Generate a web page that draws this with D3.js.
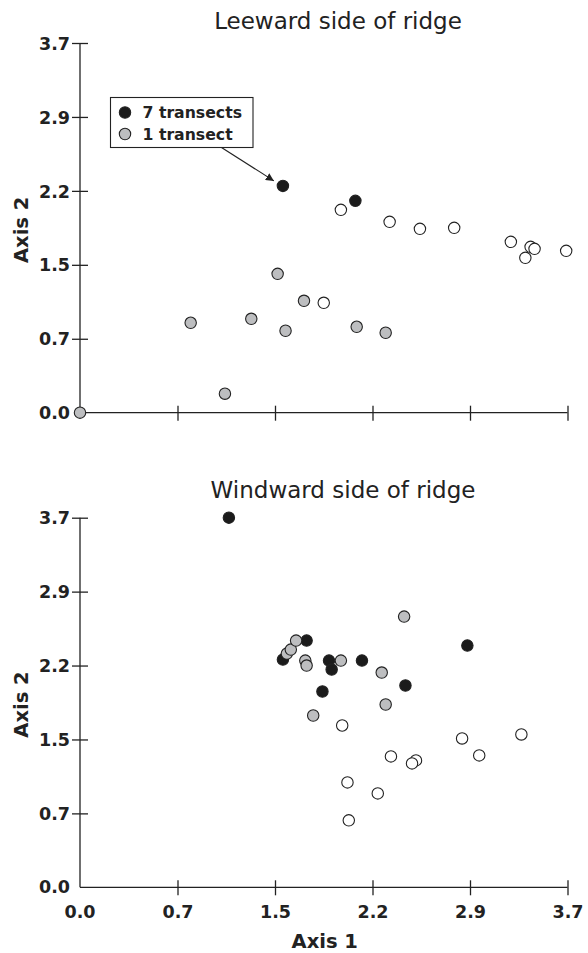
<!DOCTYPE html>
<html>
<head>
<meta charset="utf-8">
<script src="https://cdn.jsdelivr.net/npm/d3@7"></script>
<style>
  html, body { margin: 0; padding: 0; background: #fff; }
  svg { display: block; }
</style>
</head>
<body>
<svg id="chart" width="588" height="953"></svg>
<script>
// ---- data ----
const tickValues = [0.74, 1.48, 2.22, 2.96, 3.7];
const tickLabels = ["0.7", "1.5", "2.2", "2.9", "3.7"];
const zeroLabel = "0.0";

const leewardBlack = [[1.54, 2.27], [2.09, 2.12]];
const leewardGray = [[0, 0], [0.84, 0.90], [1.10, 0.19], [1.30, 0.94], [1.50, 1.39],
  [1.56, 0.82], [1.70, 1.12], [2.10, 0.86], [2.32, 0.80]];
const leewardOpen = [[1.98, 2.03], [2.35, 1.91], [2.58, 1.84], [2.84, 1.85], [3.27, 1.71],
  [3.42, 1.66], [3.45, 1.64], [3.38, 1.55], [3.69, 1.62], [1.85, 1.10]];

const windwardBlack = [[1.13, 3.70], [1.54, 2.28], [1.72, 2.47], [1.89, 2.27], [1.91, 2.18],
  [2.14, 2.27], [1.84, 1.96], [2.47, 2.02], [2.94, 2.42]];
const windwardGray = [[1.57, 2.34], [1.60, 2.38], [1.64, 2.47], [1.71, 2.27], [1.72, 2.22],
  [1.98, 2.27], [2.29, 2.15], [2.32, 1.83], [1.77, 1.72], [2.46, 2.71]];
const windwardOpen = [[1.99, 1.62], [2.90, 1.49], [3.35, 1.53], [3.03, 1.32], [2.36, 1.31],
  [2.55, 1.27], [2.52, 1.24], [2.03, 1.05], [2.26, 0.94], [2.04, 0.67]];

const legendLabels = ["7 transects", "1 transect"];
const titles = ["Leeward side of ridge", "Windward side of ridge"];
const xTitle = "Axis 1";
const yTitle = "Axis 2";

// ---- styles ----
const INK = "#222";
const BLACK_FILL = "#1b1b1b";
const GRAY_FILL = "#bdbec0";
const R = 5.7;
const FONT = "'DejaVu Sans', Verdana, sans-serif";

const svg = d3.select("#chart");

const x = d3.scaleLinear().domain([0, 3.7]).range([80, 567.5]);

const defs = svg.append("defs");
defs.append("marker")
  .attr("id", "arrow")
  .attr("viewBox", "0 0 10 10")
  .attr("refX", 10).attr("refY", 5)
  .attr("markerWidth", 8).attr("markerHeight", 8)
  .attr("markerUnits", "userSpaceOnUse")
  .attr("orient", "auto")
  .append("path").attr("d", "M0,0 L10,5 L0,10 Z").attr("fill", INK);

function panel(cfg) {
  const y = d3.scaleLinear().domain([0, 3.7]).range([cfg.y0, cfg.y1]);
  const g = svg.append("g");

  // title
  g.append("text")
    .attr("x", cfg.titleX).attr("y", cfg.titleY)
    .attr("text-anchor", "middle")
    .attr("font-family", FONT).attr("font-size", 23)
    .attr("fill", INK)
    .text(cfg.title);

  // y axis
  const yAxis = d3.axisLeft(y).tickValues(tickValues)
    .tickFormat((d, i) => tickLabels[i]).tickSizeOuter(0);
  const ya = g.append("g").attr("transform", `translate(${x(0)},0)`).call(yAxis);
  ya.select(".domain").attr("stroke", INK).attr("stroke-width", 1.3)
    .attr("d", `M0,${y(0)}V${y(3.7)}`);
  ya.selectAll(".tick line").attr("x1", -8).attr("x2", 8)
    .attr("stroke", INK).attr("stroke-width", 1.3);
  ya.selectAll(".tick text").attr("x", -10).attr("dy", "0.35em")
    .attr("font-family", FONT).attr("font-size", 17.5).attr("font-weight", "bold")
    .attr("fill", INK);
  // zero label
  g.append("text").attr("x", x(0) - 10).attr("y", y(0)).attr("dy", "0.35em")
    .attr("text-anchor", "end")
    .attr("font-family", FONT).attr("font-size", 17.5).attr("font-weight", "bold")
    .attr("fill", INK).text(zeroLabel);

  // x axis
  const xAxis = d3.axisBottom(x).tickValues(tickValues)
    .tickFormat((d, i) => cfg.xLabels ? tickLabels[i] : "").tickSizeOuter(0);
  const xa = g.append("g").attr("transform", `translate(0,${y(0)})`).call(xAxis);
  xa.select(".domain").attr("stroke", INK).attr("stroke-width", 1.3)
    .attr("d", `M${x(0)},0H${x(3.7)}`);
  xa.selectAll(".tick line").attr("y1", -7).attr("y2", 8)
    .attr("stroke", INK).attr("stroke-width", 1.3);
  xa.selectAll(".tick text").attr("y", 31).attr("dy", 0)
    .attr("font-family", FONT).attr("font-size", 17.5).attr("font-weight", "bold")
    .attr("fill", INK);
  if (cfg.xLabels) {
    g.append("text").attr("x", x(0)).attr("y", y(0) + 31)
      .attr("text-anchor", "middle")
      .attr("font-family", FONT).attr("font-size", 17.5).attr("font-weight", "bold")
      .attr("fill", INK).text(zeroLabel);
    g.append("text").attr("x", (x(0) + x(3.7)) / 2 + 1).attr("y", y(0) + 61)
      .attr("text-anchor", "middle")
      .attr("font-family", FONT).attr("font-size", 19.5).attr("font-weight", "bold")
      .attr("fill", INK).text(xTitle);
  }

  // y title
  const yc = (y(0) + y(3.7)) / 2 + 2;
  g.append("text")
    .attr("transform", `translate(28,${yc}) rotate(-90)`)
    .attr("text-anchor", "middle")
    .attr("font-family", FONT).attr("font-size", 19.5).attr("font-weight", "bold")
    .attr("fill", INK).text(yTitle);

  // points: black, gray, open
  const layers = [
    { data: cfg.black, fill: BLACK_FILL },
    { data: cfg.gray, fill: GRAY_FILL },
    { data: cfg.open, fill: "#fff" }
  ];
  layers.forEach(l => {
    g.append("g").selectAll("circle").data(l.data).join("circle")
      .attr("cx", d => x(d[0])).attr("cy", d => y(d[1]))
      .attr("r", R).attr("fill", l.fill)
      .attr("stroke", INK).attr("stroke-width", 1.1);
  });
  return { y, g };
}

const topPanel = panel({
  y0: 412.7, y1: 43, title: titles[0], titleX: 338, titleY: 29,
  black: leewardBlack, gray: leewardGray, open: leewardOpen, xLabels: false
});
panel({
  y0: 887.3, y1: 517.7, title: titles[1], titleX: 343, titleY: 498,
  black: windwardBlack, gray: windwardGray, open: windwardOpen, xLabels: true
});

// legend
const lg = topPanel.g.append("g");
lg.append("rect").attr("x", 110.5).attr("y", 97.5).attr("width", 142.5).attr("height", 50)
  .attr("fill", "#fff").attr("stroke", INK).attr("stroke-width", 1.1);
const legendFills = [BLACK_FILL, GRAY_FILL];
legendLabels.forEach((lab, i) => {
  const cy = 112.5 + i * 21.5;
  lg.append("circle").attr("cx", 125).attr("cy", cy).attr("r", R)
    .attr("fill", legendFills[i]).attr("stroke", INK).attr("stroke-width", 1.1);
  lg.append("text").attr("x", 142.5).attr("y", cy).attr("dy", "0.36em")
    .attr("font-family", FONT).attr("font-size", 15.7).attr("font-weight", "bold")
    .attr("fill", INK).text(lab);
});
// arrow pointing at the first black leeward point
const tgt = leewardBlack[0];
lg.append("line")
  .attr("x1", 221.5).attr("y1", 147.5)
  .attr("x2", x(tgt[0]) - 9).attr("y2", topPanel.y(tgt[1]) - 5)
  .attr("stroke", INK).attr("stroke-width", 1.1)
  .attr("marker-end", "url(#arrow)");
</script>
</body>
</html>
